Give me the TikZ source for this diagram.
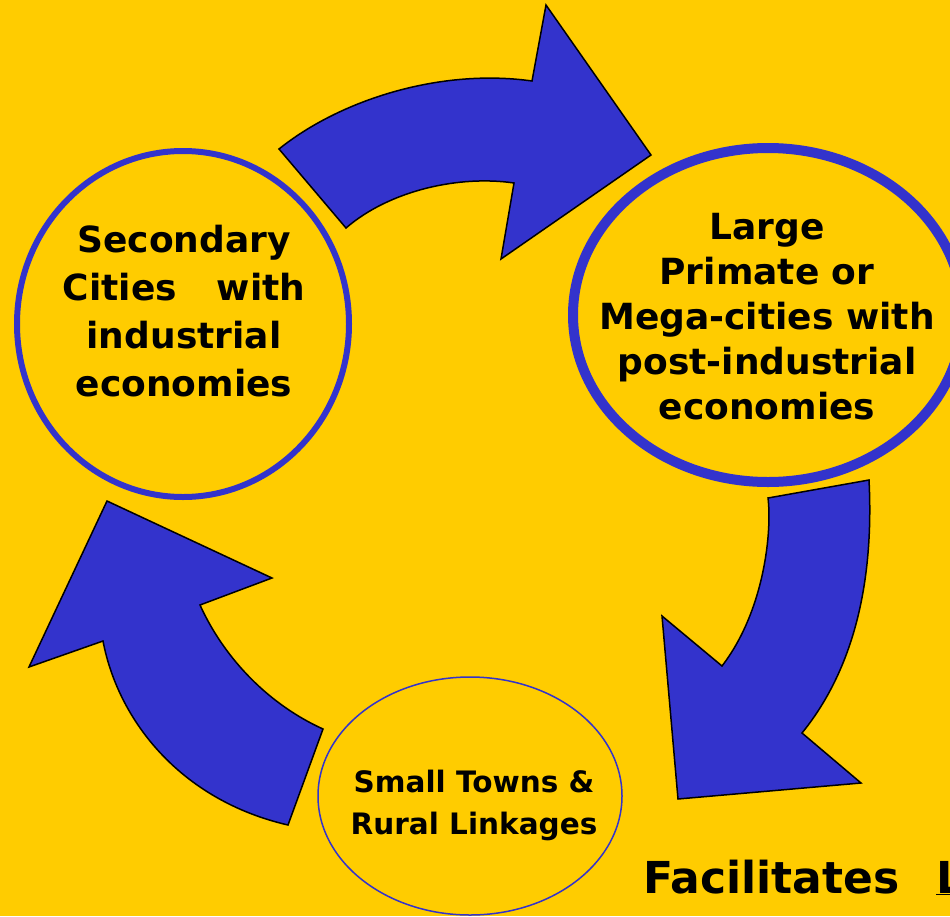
\documentclass[tikz,border=0pt]{standalone}
\usepackage{fontspec}
\setmainfont{DejaVu Sans}
\usetikzlibrary{shapes.geometric}
\definecolor{sunyellow}{HTML}{FFCC00}
\definecolor{cycleblue}{HTML}{3333CC}
\tikzset{
  cityring/.style={ellipse, draw=cycleblue, inner sep=0pt},
  citytext/.style={align=center, text=black, inner sep=0pt},
  bigarrow/.style={fill=cycleblue, draw=black, line width=1.5pt, line join=miter},
}
\begin{document}
\begin{tikzpicture}[x=1pt,y=-1pt]

\useasboundingbox (0,0) rectangle (950,916);
\clip (0,0) rectangle (950,916);
\fill[sunyellow] (0,0) rectangle (950,916);

% the three curved arrows of the cycle
\draw[bigarrow] (279,149) .. controls (340,100) and (440,68) .. (532,81)
  -- (546,5) -- (651,155) -- (501,259) -- (514,183)
  .. controls (460,175) and (390,190) .. (346,228) -- cycle;
\draw[bigarrow] (869,480) -- (768,498)
  .. controls (772,530) and (765,610) .. (722,666)
  -- (662,616) -- (678,799) -- (861,783) -- (802,733)
  .. controls (845,680) and (875,600) .. (869,480) -- cycle;
\draw[bigarrow] (323,729) .. controls (270,705) and (225,660) .. (200,605)
  -- (272,578) -- (107,501) -- (29,667) -- (103,641)
  .. controls (118,720) and (180,800) .. (288,825) -- cycle;

% the rings
\node[cityring, line width=6pt, minimum width=332pt, minimum height=346pt] (secondary) at (183,324) {};
\node[cityring, line width=10pt, minimum width=390pt, minimum height=334pt] (primate) at (768,315) {};
\node[cityring, line width=1.5pt, minimum width=304pt, minimum height=238pt] (small) at (470,796) {};

% their texts
\node[citytext, font=\bfseries\fontsize{36}{48}\selectfont] (secondarytext) at (184,311)
  {Secondary\\Cities\hspace{40pt}with\\industrial\\economies};
\node[citytext, font=\bfseries\fontsize{36}{45}\selectfont] (primatetext) at (767,317)
  {Large\\Primate or\\Mega-cities with\\post-industrial\\economies};
\node[citytext, font=\bfseries\fontsize{29.5}{42}\selectfont] (smalltext) at (474,805)
  {Small Towns \&\\Rural Linkages};

\node[anchor=base west, inner sep=0pt, font=\bfseries\fontsize{44}{50}\selectfont] (facilitates) at (643,893)
  {Facilitates\hspace{37pt}\underline{L}};

\end{tikzpicture}
\end{document}
